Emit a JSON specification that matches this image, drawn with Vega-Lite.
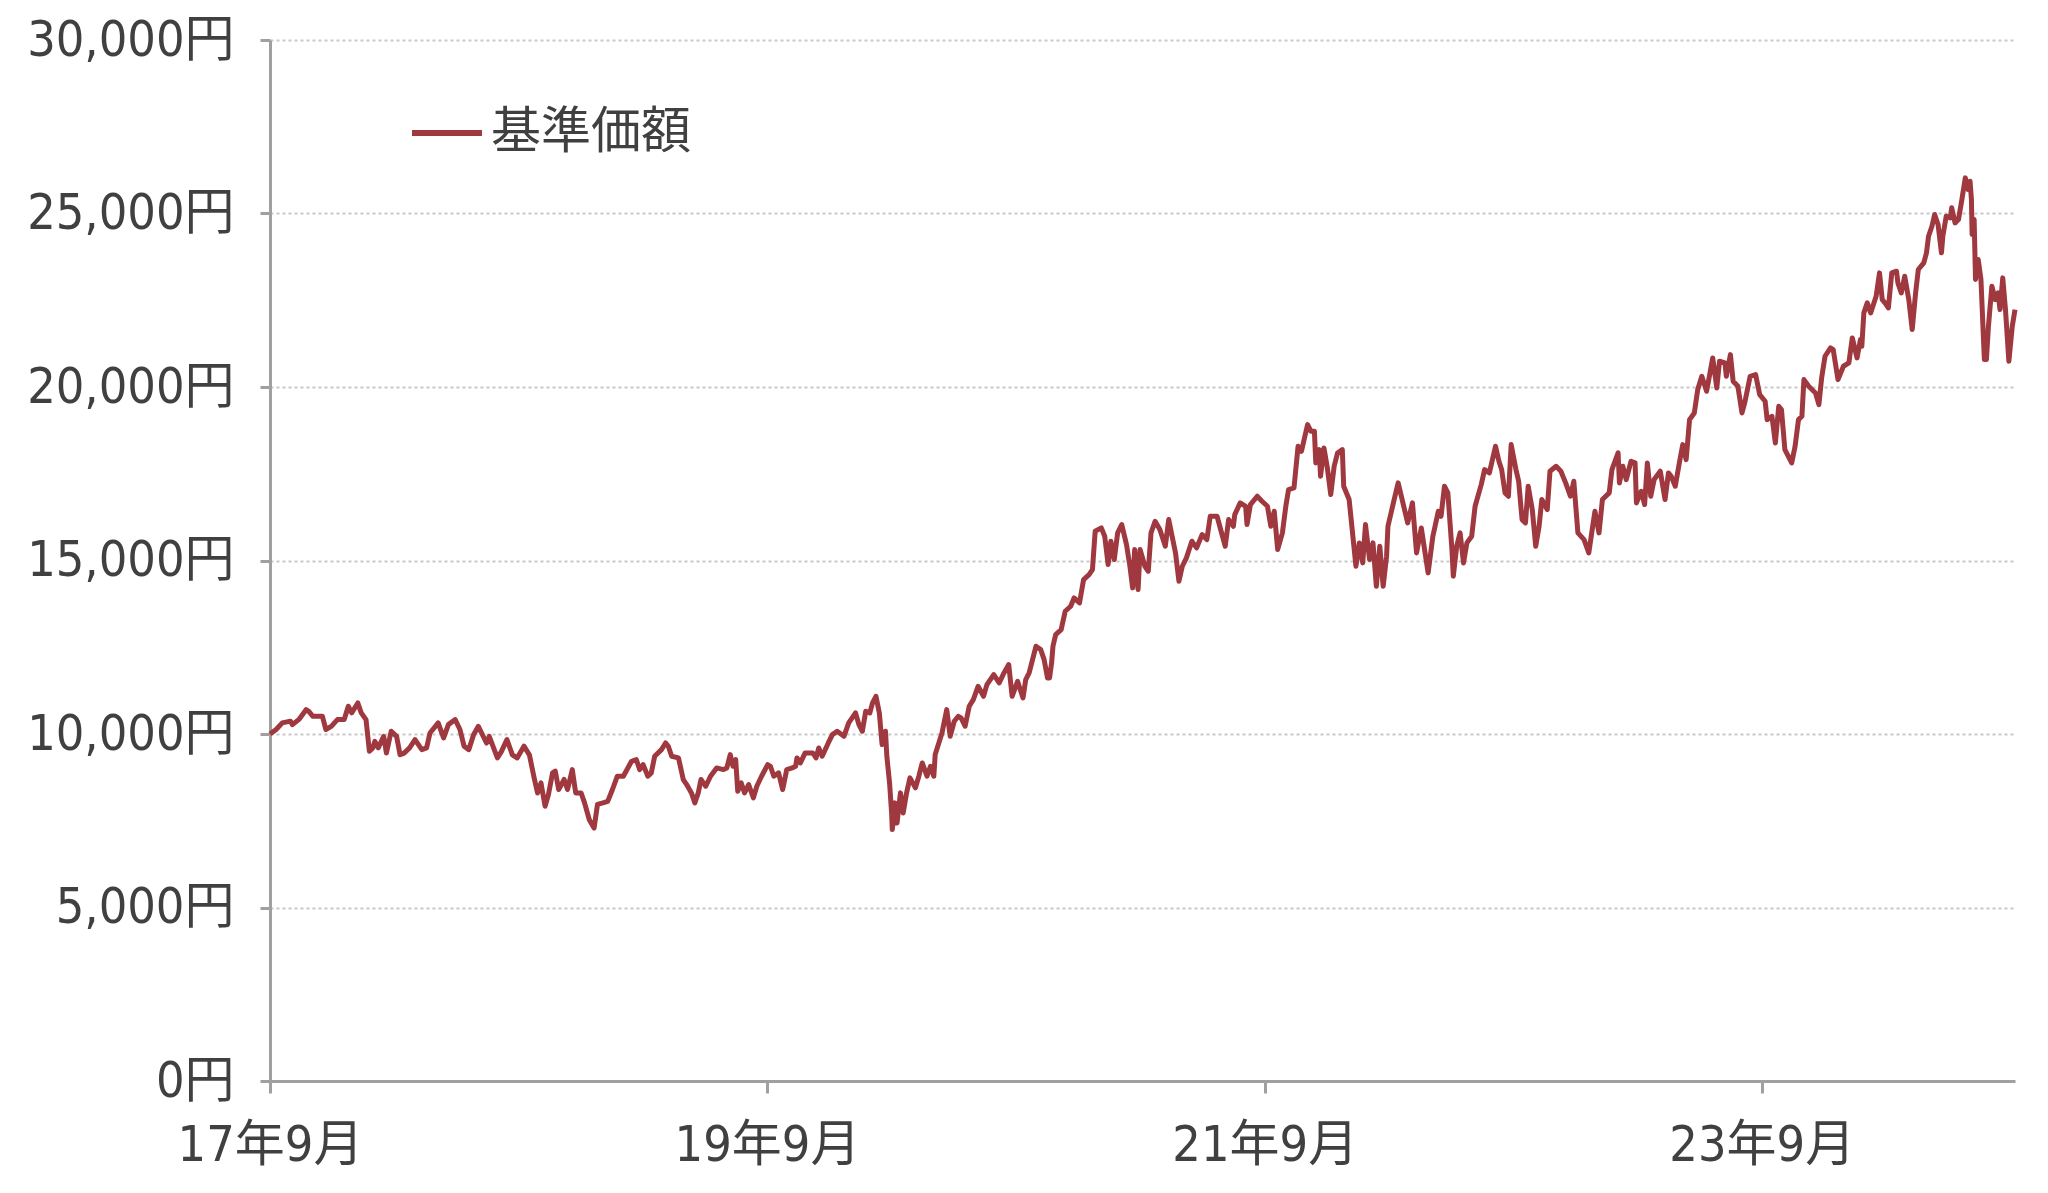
{
"$schema": "https://vega.github.io/schema/vega-lite/v6.json",
"width": 1745, "height": 1041,
"autosize": {"type": "none"},
"padding": {"left": 270, "top": 40, "right": 33, "bottom": 112},
"background": "white",
"config": {"view": {"stroke": null}, "font": "Liberation Sans Narrow, DejaVu Sans Condensed, Noto Sans CJK JP"},
"data": {"values": [
{"d":"2017-09-01","v":10000},{"d":"2017-09-10","v":10130},{"d":"2017-09-19","v":10320},{"d":"2017-10-01","v":10370},{"d":"2017-10-04","v":10270},{"d":"2017-10-14","v":10430},{"d":"2017-10-24","v":10700},{"d":"2017-10-28","v":10650},{"d":"2017-11-03","v":10510},{"d":"2017-11-17","v":10510},{"d":"2017-11-22","v":10130},{"d":"2017-11-30","v":10220},{"d":"2017-12-09","v":10415},{"d":"2017-12-19","v":10415},{"d":"2017-12-25","v":10800},{"d":"2017-12-30","v":10610},
{"d":"2018-01-08","v":10895},{"d":"2018-01-13","v":10610},{"d":"2018-01-20","v":10415},{"d":"2018-01-25","v":9500},{"d":"2018-01-30","v":9600},{"d":"2018-02-02","v":9790},{"d":"2018-02-07","v":9600},{"d":"2018-02-15","v":9930},{"d":"2018-02-19","v":9450},{"d":"2018-02-26","v":10080},{"d":"2018-03-06","v":9930},{"d":"2018-03-11","v":9400},{"d":"2018-03-17","v":9450},{"d":"2018-03-25","v":9600},{"d":"2018-04-02","v":9840},{"d":"2018-04-12","v":9550},{"d":"2018-04-19","v":9600},{"d":"2018-04-24","v":10030},{"d":"2018-05-06","v":10320},{"d":"2018-05-14","v":9890},{"d":"2018-05-21","v":10270},{"d":"2018-05-31","v":10415},{"d":"2018-06-07","v":10130},{"d":"2018-06-13","v":9650},{"d":"2018-06-20","v":9550},{"d":"2018-06-27","v":9980},{"d":"2018-07-04","v":10220},{"d":"2018-07-16","v":9740},{"d":"2018-07-20","v":9930},{"d":"2018-08-01","v":9310},{"d":"2018-08-07","v":9500},{"d":"2018-08-15","v":9840},{"d":"2018-08-23","v":9400},{"d":"2018-08-30","v":9310},{"d":"2018-09-09","v":9650},{"d":"2018-09-17","v":9400},{"d":"2018-09-24","v":8735},{"d":"2018-09-29","v":8300},{"d":"2018-10-04","v":8590},{"d":"2018-10-10","v":7920},{"d":"2018-10-15","v":8255},{"d":"2018-10-21","v":8880},{"d":"2018-10-25","v":8930},{"d":"2018-10-30","v":8400},{"d":"2018-11-07","v":8690},{"d":"2018-11-12","v":8400},{"d":"2018-11-19","v":8975},{"d":"2018-11-24","v":8300},{"d":"2018-12-02","v":8300},{"d":"2018-12-07","v":8015},{"d":"2018-12-14","v":7530},{"d":"2018-12-21","v":7290},{"d":"2018-12-26","v":7970},
{"d":"2019-01-03","v":8015},{"d":"2019-01-10","v":8060},{"d":"2019-01-17","v":8400},{"d":"2019-01-24","v":8780},{"d":"2019-02-02","v":8783},{"d":"2019-02-14","v":9214},{"d":"2019-02-21","v":9262},{"d":"2019-02-26","v":8975},{"d":"2019-03-03","v":9118},{"d":"2019-03-10","v":8783},{"d":"2019-03-15","v":8879},{"d":"2019-03-20","v":9358},{"d":"2019-03-30","v":9550},{"d":"2019-04-05","v":9742},{"d":"2019-04-09","v":9646},{"d":"2019-04-14","v":9358},{"d":"2019-04-24","v":9310},{"d":"2019-05-01","v":8687},{"d":"2019-05-06","v":8543},{"d":"2019-05-13","v":8303},{"d":"2019-05-18","v":8015},{"d":"2019-05-23","v":8303},{"d":"2019-05-27","v":8687},{"d":"2019-06-03","v":8495},{"d":"2019-06-10","v":8783},{"d":"2019-06-19","v":9022},{"d":"2019-06-29","v":8975},{"d":"2019-07-04","v":9022},{"d":"2019-07-09","v":9406},{"d":"2019-07-13","v":9070},{"d":"2019-07-17","v":9262},{"d":"2019-07-20","v":8351},{"d":"2019-07-25","v":8591},{"d":"2019-07-30","v":8303},{"d":"2019-08-05","v":8543},{"d":"2019-08-12","v":8159},{"d":"2019-08-17","v":8495},{"d":"2019-08-24","v":8783},{"d":"2019-09-02","v":9118},{"d":"2019-09-06","v":9070},{"d":"2019-09-11","v":8783},{"d":"2019-09-18","v":8879},{"d":"2019-09-24","v":8399},{"d":"2019-09-30","v":8975},{"d":"2019-10-08","v":9022},{"d":"2019-10-13","v":9070},{"d":"2019-10-15","v":9310},{"d":"2019-10-20","v":9166},{"d":"2019-10-27","v":9454},{"d":"2019-11-07","v":9454},{"d":"2019-11-12","v":9310},{"d":"2019-11-16","v":9598},{"d":"2019-11-21","v":9358},{"d":"2019-11-30","v":9742},{"d":"2019-12-06","v":9983},{"d":"2019-12-13","v":10079},{"d":"2019-12-23","v":9934},{"d":"2019-12-30","v":10320},
{"d":"2020-01-09","v":10607},{"d":"2020-01-14","v":10271},{"d":"2020-01-19","v":10079},{"d":"2020-01-24","v":10655},{"d":"2020-01-30","v":10607},{"d":"2020-02-03","v":10895},{"d":"2020-02-08","v":11087},{"d":"2020-02-13","v":10607},{"d":"2020-02-17","v":9694},{"d":"2020-02-22","v":10079},{"d":"2020-02-24","v":9358},{"d":"2020-02-28","v":8591},{"d":"2020-03-02","v":7726},{"d":"2020-03-03","v":7246},{"d":"2020-03-07","v":8015},{"d":"2020-03-10","v":7438},{"d":"2020-03-15","v":8303},{"d":"2020-03-19","v":7726},{"d":"2020-03-24","v":8303},{"d":"2020-03-29","v":8735},{"d":"2020-04-06","v":8447},{"d":"2020-04-11","v":8783},{"d":"2020-04-16","v":9166},{"d":"2020-04-23","v":8783},{"d":"2020-04-28","v":9070},{"d":"2020-05-03","v":8783},{"d":"2020-05-05","v":9406},{"d":"2020-05-15","v":10031},{"d":"2020-05-22","v":10703},{"d":"2020-05-27","v":9934},{"d":"2020-06-02","v":10367},{"d":"2020-06-08","v":10511},{"d":"2020-06-12","v":10463},{"d":"2020-06-18","v":10223},{"d":"2020-06-24","v":10799},{"d":"2020-06-30","v":10991},{"d":"2020-07-07","v":11375},{"d":"2020-07-15","v":11087},{"d":"2020-07-20","v":11423},{"d":"2020-07-30","v":11712},{"d":"2020-08-07","v":11471},{"d":"2020-08-14","v":11760},{"d":"2020-08-21","v":12000},{"d":"2020-08-26","v":11087},{"d":"2020-09-03","v":11519},{"d":"2020-09-11","v":11039},{"d":"2020-09-15","v":11567},{"d":"2020-09-20","v":11760},{"d":"2020-09-30","v":12528},{"d":"2020-10-07","v":12432},{"d":"2020-10-12","v":12144},{"d":"2020-10-17","v":11615},{"d":"2020-10-20","v":11615},{"d":"2020-10-23","v":12048},{"d":"2020-10-25","v":12528},{"d":"2020-10-29","v":12865},{"d":"2020-11-06","v":13009},{"d":"2020-11-12","v":13537},{"d":"2020-11-20","v":13681},{"d":"2020-11-25","v":13921},{"d":"2020-12-03","v":13777},{"d":"2020-12-09","v":14451},{"d":"2020-12-17","v":14595},{"d":"2020-12-22","v":14739},{"d":"2020-12-26","v":15843},
{"d":"2021-01-04","v":15939},{"d":"2021-01-09","v":15699},{"d":"2021-01-14","v":14883},{"d":"2021-01-18","v":15555},{"d":"2021-01-23","v":15027},{"d":"2021-01-28","v":15795},{"d":"2021-02-03","v":16035},{"d":"2021-02-10","v":15459},{"d":"2021-02-15","v":14835},{"d":"2021-02-19","v":14211},{"d":"2021-02-22","v":15315},{"d":"2021-02-27","v":14163},{"d":"2021-03-02","v":15315},{"d":"2021-03-09","v":14835},{"d":"2021-03-14","v":14691},{"d":"2021-03-18","v":15795},{"d":"2021-03-24","v":16131},{"d":"2021-03-31","v":15891},{"d":"2021-04-08","v":15411},{"d":"2021-04-13","v":16179},{"d":"2021-04-18","v":15699},{"d":"2021-04-23","v":15219},{"d":"2021-04-28","v":14403},{"d":"2021-05-03","v":14835},{"d":"2021-05-09","v":15075},{"d":"2021-05-17","v":15555},{"d":"2021-05-24","v":15363},{"d":"2021-06-01","v":15747},{"d":"2021-06-08","v":15603},{"d":"2021-06-13","v":16275},{"d":"2021-06-23","v":16275},{"d":"2021-07-05","v":15411},{"d":"2021-07-10","v":16179},{"d":"2021-07-17","v":15987},{"d":"2021-07-19","v":16323},{"d":"2021-07-27","v":16660},{"d":"2021-08-04","v":16563},{"d":"2021-08-06","v":16035},{"d":"2021-08-11","v":16611},{"d":"2021-08-21","v":16852},{"d":"2021-08-28","v":16708},{"d":"2021-09-05","v":16563},{"d":"2021-09-10","v":15987},{"d":"2021-09-15","v":16419},{"d":"2021-09-20","v":15315},{"d":"2021-09-27","v":15795},{"d":"2021-10-02","v":16563},{"d":"2021-10-06","v":17044},{"d":"2021-10-14","v":17092},{"d":"2021-10-20","v":18292},{"d":"2021-10-25","v":18148},{"d":"2021-10-30","v":18580},{"d":"2021-11-03","v":18917},{"d":"2021-11-08","v":18724},{"d":"2021-11-13","v":18724},{"d":"2021-11-15","v":17812},{"d":"2021-11-20","v":18196},{"d":"2021-11-22","v":17428},{"d":"2021-11-27","v":18244},{"d":"2021-12-02","v":17668},{"d":"2021-12-07","v":16900},{"d":"2021-12-12","v":17716},{"d":"2021-12-17","v":18100},{"d":"2021-12-24","v":18196},{"d":"2021-12-26","v":17140},
{"d":"2022-01-03","v":16756},{"d":"2022-01-08","v":15795},{"d":"2022-01-13","v":14835},{"d":"2022-01-18","v":15507},{"d":"2022-01-23","v":14931},{"d":"2022-01-27","v":16035},{"d":"2022-02-02","v":15027},{"d":"2022-02-07","v":15507},{"d":"2022-02-12","v":14259},{"d":"2022-02-17","v":15411},{"d":"2022-02-22","v":14259},{"d":"2022-02-27","v":15123},{"d":"2022-03-01","v":15987},{"d":"2022-03-09","v":16660},{"d":"2022-03-16","v":17236},{"d":"2022-03-23","v":16660},{"d":"2022-03-30","v":16083},{"d":"2022-04-06","v":16660},{"d":"2022-04-12","v":15219},{"d":"2022-04-19","v":15939},{"d":"2022-04-29","v":14643},{"d":"2022-05-06","v":15699},{"d":"2022-05-14","v":16419},{"d":"2022-05-18","v":16275},{"d":"2022-05-23","v":17140},{"d":"2022-05-28","v":16948},{"d":"2022-06-03","v":15315},{"d":"2022-06-05","v":14547},{"d":"2022-06-10","v":15411},{"d":"2022-06-15","v":15795},{"d":"2022-06-20","v":14931},{"d":"2022-06-25","v":15507},{"d":"2022-07-02","v":15699},{"d":"2022-07-07","v":16563},{"d":"2022-07-16","v":17188},{"d":"2022-07-21","v":17620},{"d":"2022-07-28","v":17524},{"d":"2022-08-06","v":18292},{"d":"2022-08-11","v":17860},{"d":"2022-08-15","v":17620},{"d":"2022-08-20","v":16948},{"d":"2022-08-25","v":16852},{"d":"2022-08-29","v":18340},{"d":"2022-09-05","v":17620},{"d":"2022-09-09","v":17284},{"d":"2022-09-14","v":16179},{"d":"2022-09-19","v":16083},{"d":"2022-09-23","v":17140},{"d":"2022-09-29","v":16467},{"d":"2022-10-04","v":15411},{"d":"2022-10-09","v":15987},{"d":"2022-10-13","v":16756},{"d":"2022-10-21","v":16467},{"d":"2022-10-25","v":17572},{"d":"2022-11-03","v":17716},{"d":"2022-11-10","v":17572},{"d":"2022-11-17","v":17236},{"d":"2022-11-24","v":16852},{"d":"2022-11-29","v":17284},{"d":"2022-12-05","v":15795},{"d":"2022-12-14","v":15603},{"d":"2022-12-21","v":15219},{"d":"2022-12-26","v":15891},{"d":"2022-12-30","v":16419},
{"d":"2023-01-05","v":15795},{"d":"2023-01-10","v":16756},{"d":"2023-01-20","v":16948},{"d":"2023-01-24","v":17620},{"d":"2023-02-02","v":18100},{"d":"2023-02-04","v":17236},{"d":"2023-02-09","v":17716},{"d":"2023-02-14","v":17332},{"d":"2023-02-21","v":17860},{"d":"2023-02-27","v":17812},{"d":"2023-03-01","v":16660},{"d":"2023-03-08","v":16996},{"d":"2023-03-13","v":16612},{"d":"2023-03-17","v":17812},{"d":"2023-03-22","v":16852},{"d":"2023-03-27","v":17332},{"d":"2023-04-05","v":17572},{"d":"2023-04-12","v":16756},{"d":"2023-04-17","v":17524},{"d":"2023-04-21","v":17428},{"d":"2023-04-27","v":17140},{"d":"2023-05-03","v":17812},{"d":"2023-05-08","v":18340},{"d":"2023-05-13","v":17908},{"d":"2023-05-18","v":19060},{"d":"2023-05-25","v":19252},{"d":"2023-05-30","v":19925},{"d":"2023-06-05","v":20309},{"d":"2023-06-12","v":19877},{"d":"2023-06-17","v":20405},{"d":"2023-06-21","v":20838},{"d":"2023-06-27","v":19973},{"d":"2023-07-01","v":20742},{"d":"2023-07-09","v":20694},{"d":"2023-07-11","v":20309},{"d":"2023-07-17","v":20934},{"d":"2023-07-21","v":20165},{"d":"2023-07-28","v":20021},{"d":"2023-08-03","v":19252},{"d":"2023-08-07","v":19541},{"d":"2023-08-15","v":20309},{"d":"2023-08-23","v":20357},{"d":"2023-08-29","v":19781},{"d":"2023-09-06","v":19589},{"d":"2023-09-09","v":19060},{"d":"2023-09-16","v":19156},{"d":"2023-09-21","v":18388},{"d":"2023-09-26","v":19445},{"d":"2023-09-30","v":19349},{"d":"2023-10-05","v":18196},{"d":"2023-10-15","v":17812},{"d":"2023-10-20","v":18292},{"d":"2023-10-25","v":19060},{"d":"2023-10-30","v":19156},{"d":"2023-11-02","v":20213},{"d":"2023-11-09","v":20021},{"d":"2023-11-19","v":19829},{"d":"2023-11-24","v":19493},{"d":"2023-11-28","v":20261},{"d":"2023-12-03","v":20886},{"d":"2023-12-11","v":21126},{"d":"2023-12-15","v":21078},{"d":"2023-12-22","v":20213},{"d":"2023-12-30","v":20598},
{"d":"2024-01-07","v":20694},{"d":"2024-01-12","v":21415},{"d":"2024-01-19","v":20838},{"d":"2024-01-24","v":21367},{"d":"2024-01-26","v":21175},{"d":"2024-01-29","v":22135},{"d":"2024-02-03","v":22423},{"d":"2024-02-08","v":22135},{"d":"2024-02-16","v":22615},{"d":"2024-02-21","v":23289},{"d":"2024-02-25","v":22519},{"d":"2024-02-29","v":22423},{"d":"2024-03-05","v":22279},{"d":"2024-03-10","v":23289},{"d":"2024-03-17","v":23337},{"d":"2024-03-19","v":23001},{"d":"2024-03-24","v":22711},{"d":"2024-03-29","v":23193},{"d":"2024-04-04","v":22519},{"d":"2024-04-09","v":21655},{"d":"2024-04-14","v":22711},{"d":"2024-04-18","v":23385},{"d":"2024-04-26","v":23577},{"d":"2024-04-30","v":23866},{"d":"2024-05-03","v":24346},{"d":"2024-05-08","v":24634},{"d":"2024-05-12","v":24971},{"d":"2024-05-17","v":24682},{"d":"2024-05-22","v":23866},{"d":"2024-05-24","v":24346},{"d":"2024-05-29","v":24922},{"d":"2024-06-04","v":24874},{"d":"2024-06-06","v":25163},{"d":"2024-06-11","v":24730},{"d":"2024-06-16","v":24826},{"d":"2024-06-21","v":25403},{"d":"2024-06-26","v":26027},{"d":"2024-06-30","v":25691},{"d":"2024-07-03","v":25931},{"d":"2024-07-05","v":25403},{"d":"2024-07-06","v":24394},{"d":"2024-07-09","v":24826},{"d":"2024-07-11","v":23097},{"d":"2024-07-15","v":23673},{"d":"2024-07-19","v":23097},{"d":"2024-07-24","v":20790},{"d":"2024-07-27","v":20790},{"d":"2024-07-30","v":21751},{"d":"2024-08-04","v":22904},{"d":"2024-08-09","v":22519},{"d":"2024-08-13","v":22711},{"d":"2024-08-16","v":22231},{"d":"2024-08-20","v":23145},{"d":"2024-08-24","v":22231},{"d":"2024-08-29","v":20742},{"d":"2024-09-03","v":21751},{"d":"2024-09-07","v":22231}
]},
"mark": {"type": "line", "strokeWidth": 5, "strokeJoin": "round"},
"encoding": {
  "x": {"field": "d", "type": "temporal",
    "scale": {"type": "utc", "nice": false, "domain": [{"year": 2017, "month": 9, "date": 1, "utc": true}, {"year": 2024, "month": 9, "date": 7, "utc": true}]},
    "axis": {"title": null, "grid": false,
      "values": [{"year": 2017, "month": 9, "date": 1, "utc": true}, {"year": 2019, "month": 9, "date": 1, "utc": true}, {"year": 2021, "month": 9, "date": 1, "utc": true}, {"year": 2023, "month": 9, "date": 1, "utc": true}],
      "labelExpr": "utcFormat(datum.value, '%y年%-m月')",
      "domainColor": "#a0a0a0", "domainWidth": 3, "tickColor": "#a0a0a0", "tickWidth": 3, "tickSize": 12,
      "labelFontSize": 50, "labelColor": "#404040", "labelPadding": 27, "labelLimit": 1000, "labelFlush": false, "labelOverlap": false}},
  "y": {"field": "v", "type": "quantitative",
    "scale": {"domain": [0, 30000], "nice": false},
    "axis": {"title": null, "values": [0, 5000, 10000, 15000, 20000, 25000, 30000],
      "labelExpr": "format(datum.value, ',') + '円'",
      "grid": true, "gridColor": "#c8c8c8", "gridDash": [3, 3], "gridWidth": 2,
      "domainColor": "#a0a0a0", "domainWidth": 3, "tickColor": "#a0a0a0", "tickWidth": 3, "tickSize": 10,
      "labelFontSize": 50, "labelColor": "#404040", "labelPadding": 26, "labelLimit": 1000}},
  "color": {"datum": "基準価額", "scale": {"range": ["#A0383F"]},
    "legend": {"title": null, "orient": "none", "legendX": 139, "legendY": 55, "padding": 0,
      "symbolType": "stroke", "symbolStrokeWidth": 6, "symbolSize": 4900, "labelFontSize": 50, "labelColor": "#404040", "labelOffset": 6, "labelLimit": 1000}}
}
}
